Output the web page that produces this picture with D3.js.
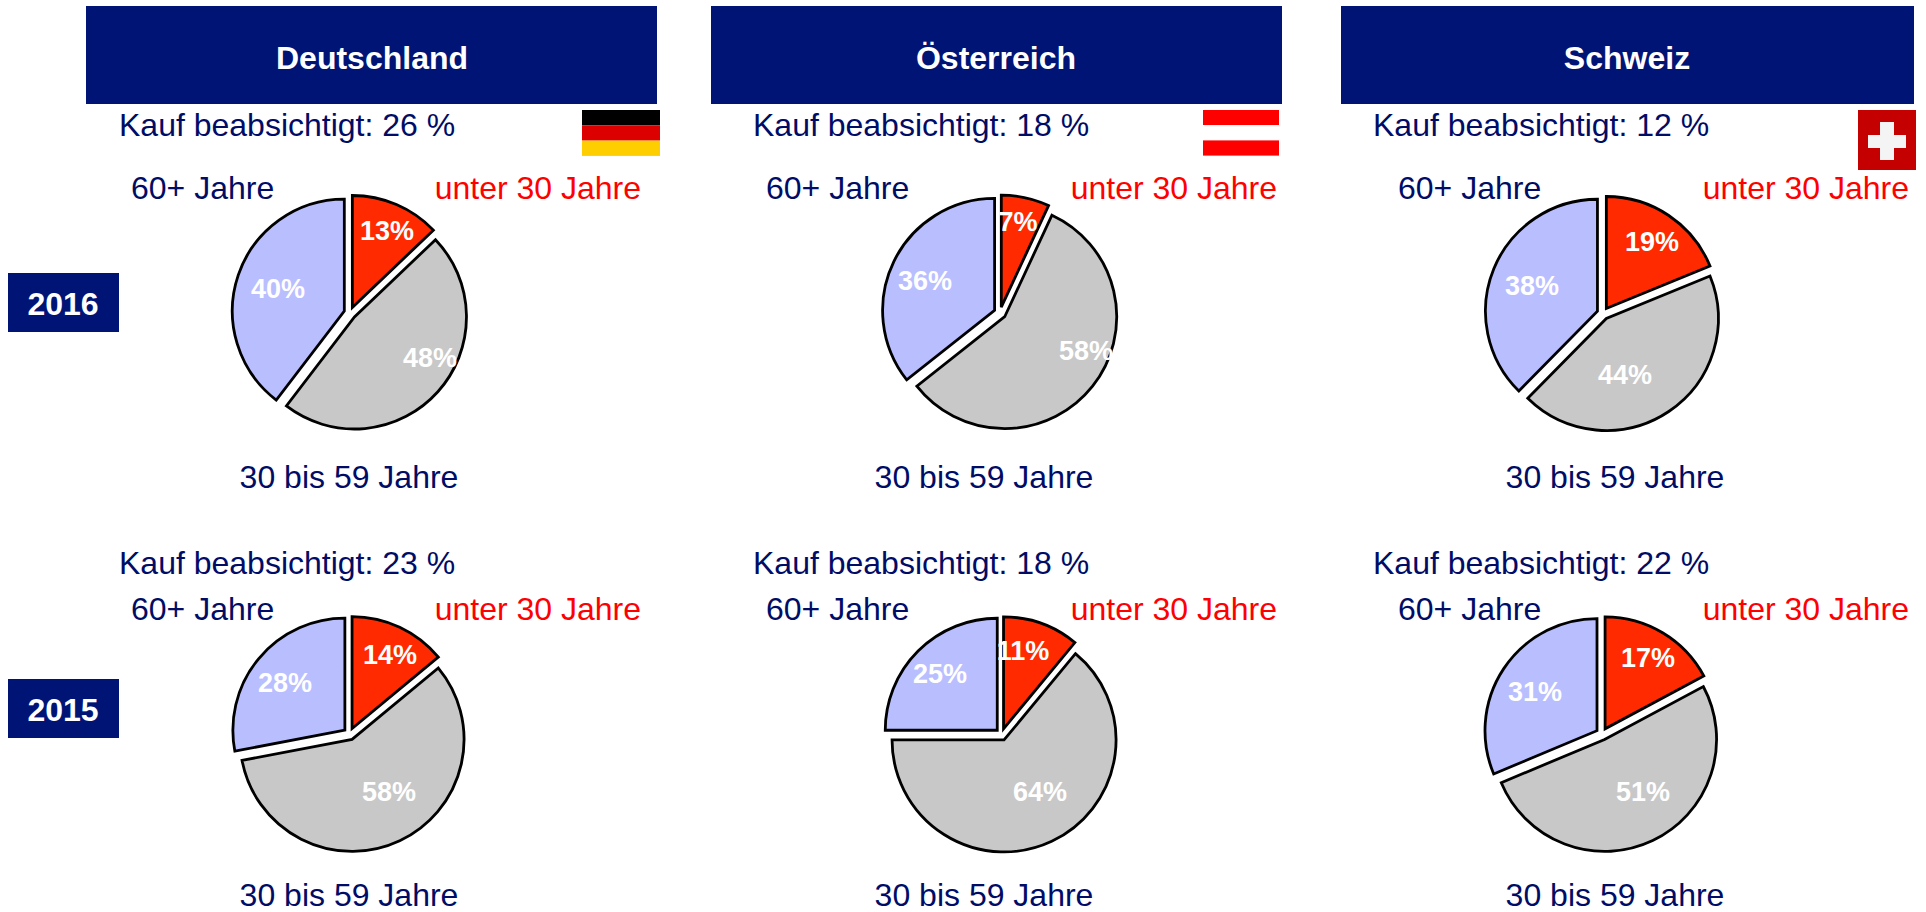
<!DOCTYPE html>
<html lang="de">
<head>
<meta charset="utf-8">
<title>Kauf beabsichtigt</title>
<script src="https://cdn.jsdelivr.net/npm/d3@7"></script>
<style>
  html, body { margin: 0; background: #fff; }
  svg { display: block; font-family: "Liberation Sans", Arial, sans-serif; }
</style>
</head>
<body>
<svg id="chart" width="1926" height="912"></svg>
<script>
const countries = ["Deutschland", "Österreich", "Schweiz"];
const years = ["2016", "2015"];
const ageGroups = ["unter 30 Jahre", "30 bis 59 Jahre", "60+ Jahre"];

// one entry per pie: 2016 DE, AT, CH, then 2015 DE, AT, CH
const purchaseIntent = [26, 18, 12, 23, 18, 22];
const under30 = [13, 7, 19, 14, 11, 17];
const age30to59 = [48, 58, 44, 58, 64, 51];
const age60plus = [40, 36, 38, 28, 25, 31];

// layout
const navy = "#001476";
const textNavy = "#000c66";
const sliceColors = ["#ff2a00", "#c8c8c8", "#b9beff"];
const radius = 112;
const explode = 6;
const pieCenters = [[350, 313], [1000, 313], [1603, 313.5], [349.5, 734], [1001.5, 734.5], [1602, 734]];
const pctPositions = [
  [[387, 231], [430, 358], [278, 289]],
  [[1018, 222], [1086, 351], [925, 281]],
  [[1652, 242], [1625, 375], [1532, 286]],
  [[390, 655], [389, 792], [285, 683]],
  [[1023, 651], [1040, 792], [940, 674]],
  [[1648, 658], [1643, 792], [1535, 692]],
];
const headerBoxes = [[86, 657], [711, 1282], [1341, 1914]];
const headerTextX = [372, 996, 1627];
const intentX = [119, 753, 1373];
const over60X = [131, 766, 1398];
const under30RightX = [641, 1277, 1909];
const midX = [349, 984, 1615];
const rowTextY = [
  { intent: 125, age: 188, mid: 477 },
  { intent: 563, age: 609, mid: 895 },
];
const yearBoxY = [[273, 332], [679, 738]];

const svg = d3.select("#chart");

// Column headers.
countries.forEach((name, i) => {
  const [x0, x1] = headerBoxes[i];
  svg.append("rect").attr("x", x0).attr("y", 6).attr("width", x1 - x0).attr("height", 98).attr("fill", navy);
  svg.append("text").attr("x", headerTextX[i]).attr("y", 58)
    .attr("text-anchor", "middle").attr("dominant-baseline", "central")
    .attr("font-size", 32).attr("font-weight", "bold").attr("fill", "#fff").text(name);
});

// Year tags.
years.forEach((year, i) => {
  const [y0, y1] = yearBoxY[i];
  svg.append("rect").attr("x", 8).attr("y", y0).attr("width", 111).attr("height", y1 - y0).attr("fill", navy);
  svg.append("text").attr("x", 63).attr("y", (y0 + y1) / 2 + 1)
    .attr("text-anchor", "middle").attr("dominant-baseline", "central")
    .attr("font-size", 32).attr("font-weight", "bold").attr("fill", "#fff").text(year);
});

// Flags.
const flagDE = svg.append("g");
["#000000", "#dd0000", "#ffce00"].forEach((c, i) => {
  flagDE.append("rect").attr("x", 582).attr("y", 110 + i * 15.3).attr("width", 78).attr("height", 15.3).attr("fill", c);
});
const flagAT = svg.append("g");
["#ff0000", "#ffffff", "#ff0000"].forEach((c, i) => {
  flagAT.append("rect").attr("x", 1203).attr("y", 110 + i * 15.2).attr("width", 76).attr("height", 15.2).attr("fill", c);
});
const flagCH = svg.append("g");
flagCH.append("rect").attr("x", 1858).attr("y", 110).attr("width", 58).attr("height", 60).attr("fill", "#c40000");
flagCH.append("rect").attr("x", 1868).attr("y", 135).attr("width", 38).attr("height", 13).attr("fill", "#f4f4f4");
flagCH.append("rect").attr("x", 1880).attr("y", 122).attr("width", 14).attr("height", 38).attr("fill", "#f4f4f4");

// Pies.
const pie = d3.pie().sort(null).startAngle(0).endAngle(2 * Math.PI);
const arc = d3.arc().innerRadius(0).outerRadius(radius);

purchaseIntent.forEach((intent, p) => {
  const col = p % 3;
  const row = Math.floor(p / 3);
  const [cx, cy] = pieCenters[p];
  const values = [under30[p], age30to59[p], age60plus[p]];
  const t = rowTextY[row];

  const label = (x, y, anchor, fill, text) => svg.append("text").attr("x", x).attr("y", y)
    .attr("text-anchor", anchor).attr("dominant-baseline", "central")
    .attr("font-size", 32).attr("fill", fill).text(text);

  label(intentX[col], t.intent, "start", textNavy, `Kauf beabsichtigt: ${intent} %`);
  label(over60X[col], t.age, "start", textNavy, ageGroups[2]);
  label(under30RightX[col], t.age, "end", "#ff0000", ageGroups[0]);
  label(midX[col], t.mid, "middle", textNavy, ageGroups[1]);

  const g = svg.append("g").attr("transform", `translate(${cx},${cy})`);
  g.selectAll("path").data(pie(values)).join("path")
    .attr("d", arc)
    .attr("transform", (d) => {
      const mid = (d.startAngle + d.endAngle) / 2;
      return `translate(${explode * Math.sin(mid)},${-explode * Math.cos(mid)})`;
    })
    .attr("fill", (d, i) => sliceColors[i])
    .attr("stroke", "#000")
    .attr("stroke-width", 2.8)
    .attr("stroke-linejoin", "miter");

  values.forEach((v, i) => {
    const [x, y] = pctPositions[p][i];
    svg.append("text").attr("x", x).attr("y", y)
      .attr("text-anchor", "middle").attr("dominant-baseline", "central")
      .attr("font-size", 27).attr("font-weight", "bold").attr("fill", "#fff").text(`${v}%`);
  });
});
</script>
</body>
</html>
